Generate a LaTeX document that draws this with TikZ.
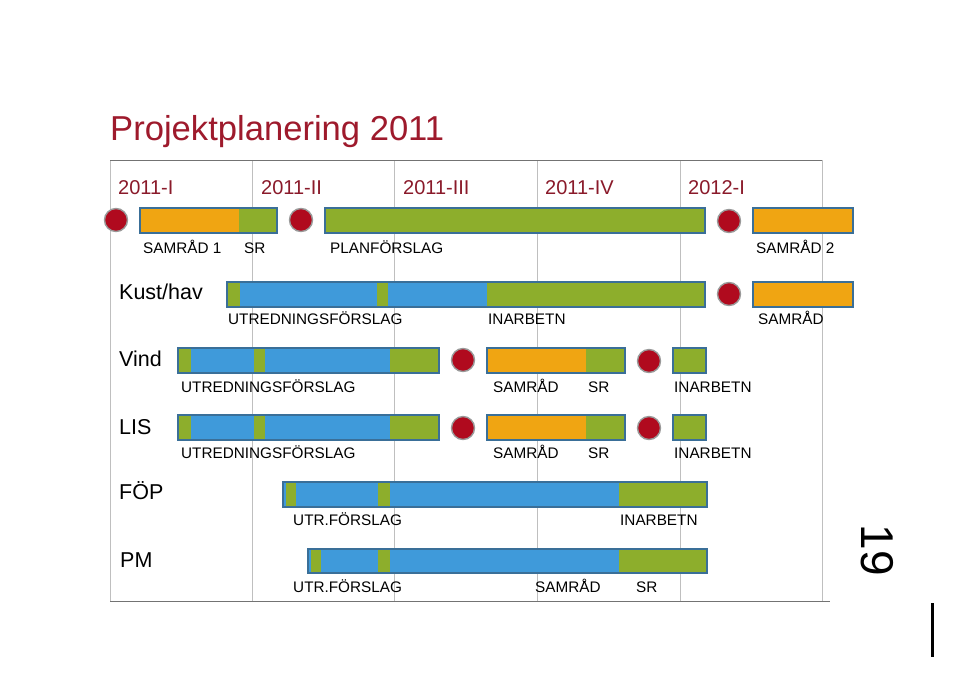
\documentclass[tikz,border=0pt]{standalone}
\usepackage{fontspec}
\setmainfont{Liberation Sans}
\definecolor{cOrange}{HTML}{F0A512}
\definecolor{cGreen}{HTML}{8DAE2C}
\definecolor{cBlue}{HTML}{3F9ADA}
\definecolor{cFrame}{HTML}{3A6F98}
\definecolor{cRed}{HTML}{B00A1E}
\definecolor{cTitle}{HTML}{9E1A2C}
\definecolor{cQuarter}{HTML}{8A1A2A}
\begin{document}
\begin{tikzpicture}[x=1pt,y=-1pt,
  gridline/.style={draw=black!25, line width=0.6pt},
  frameline/.style={draw=black!55, line width=0.9pt},
  barframe/.style={draw=cFrame, line width=1.1pt},
  milestone/.style={circle, fill=cRed, draw=black!40, line width=1.4pt, minimum size=23pt, inner sep=0pt},
  lbl/.style={font=\fontsize{15.3}{17}\selectfont, anchor=base west, inner sep=0pt, text=black},
  quarter/.style={font=\fontsize{20}{22}\selectfont, anchor=base west, inner sep=0pt, text=cQuarter},
  rowlbl/.style={font=\fontsize{21.5}{24}\selectfont, anchor=base west, inner sep=0pt, text=black},
  titlestyle/.style={font=\fontsize{34.6}{38}\selectfont, anchor=base west, inner sep=0pt, text=cTitle}]
\useasboundingbox[fill=white] (0,0) rectangle (960,675);

% grid
\foreach \gx in {252,394,537,680} {\draw[gridline] (\gx,160) -- (\gx,601);}
\draw[gridline] (110,160) -- (110,601);
\draw[gridline] (822,160) -- (822,601);
\draw[frameline] (110,160) -- (822,160);
\draw[frameline] (110,601) -- (830,601);

% title and quarters
\node[titlestyle] (title) at (110,140) {Projektplanering 2011};
\node[quarter] (q1) at (118,194) {2011-I};
\node[quarter] (q2) at (261,194) {2011-II};
\node[quarter] (q3) at (403,194) {2011-III};
\node[quarter] (q4) at (545,194) {2011-IV};
\node[quarter] (q5) at (688,194) {2012-I};

% row 1
\fill[cOrange] (140,208) rectangle (239,233);
\fill[cGreen] (239,208) rectangle (277,233);
\draw[barframe] (140,208) rectangle (277,233);
\fill[cGreen] (325,208) rectangle (705,233);
\draw[barframe] (325,208) rectangle (705,233);
\fill[cOrange] (753,208) rectangle (853,233);
\draw[barframe] (753,208) rectangle (853,233);
\node[milestone] (m11) at (116,220) {};
\node[milestone] (m12) at (301,220) {};
\node[milestone] (m13) at (729,221) {};
\node[lbl] (l11) at (143,253.5) {SAMRÅD 1};
\node[lbl] (l12) at (244,253.5) {SR};
\node[lbl] (l13) at (330,253.5) {PLANFÖRSLAG};
\node[lbl] (l14) at (756,253.5) {SAMRÅD 2};

% row 2 Kust/hav
\node[rowlbl] (r2) at (119,299.7) {Kust/hav};
\fill[cGreen] (227,282) rectangle (240,307);
\fill[cBlue] (240,282) rectangle (377,307);
\fill[cGreen] (377,282) rectangle (388,307);
\fill[cBlue] (388,282) rectangle (487,307);
\fill[cGreen] (487,282) rectangle (705,307);
\draw[barframe] (227,282) rectangle (705,307);
\node[milestone] (m21) at (729,294) {};
\fill[cOrange] (753,282) rectangle (853,307);
\draw[barframe] (753,282) rectangle (853,307);
\node[lbl] (l21) at (228,324.5) {UTREDNINGSFÖRSLAG};
\node[lbl] (l22) at (488,324.5) {INARBETN};
\node[lbl] (l23) at (758,324.5) {SAMRÅD};

% row 3 Vind
\node[rowlbl] (r3) at (119,366.7) {Vind};
\fill[cGreen] (178,348) rectangle (191,373);
\fill[cBlue] (191,348) rectangle (254,373);
\fill[cGreen] (254,348) rectangle (265,373);
\fill[cBlue] (265,348) rectangle (390,373);
\fill[cGreen] (390,348) rectangle (439,373);
\draw[barframe] (178,348) rectangle (439,373);
\node[milestone] (m31) at (463,360) {};
\fill[cOrange] (487,348) rectangle (586,373);
\fill[cGreen] (586,348) rectangle (625,373);
\draw[barframe] (487,348) rectangle (625,373);
\node[milestone] (m32) at (649,361) {};
\fill[cGreen] (673,348) rectangle (706,373);
\draw[barframe] (673,348) rectangle (706,373);
\node[lbl] (l31) at (181,392.5) {UTREDNINGSFÖRSLAG};
\node[lbl] (l32) at (493,392.5) {SAMRÅD};
\node[lbl] (l33) at (588,392.5) {SR};
\node[lbl] (l34) at (674,392.5) {INARBETN};

% row 4 LIS
\node[rowlbl] (r4) at (119,434.7) {LIS};
\fill[cGreen] (178,415) rectangle (191,440);
\fill[cBlue] (191,415) rectangle (254,440);
\fill[cGreen] (254,415) rectangle (265,440);
\fill[cBlue] (265,415) rectangle (390,440);
\fill[cGreen] (390,415) rectangle (439,440);
\draw[barframe] (178,415) rectangle (439,440);
\node[milestone] (m41) at (463,428) {};
\fill[cOrange] (487,415) rectangle (586,440);
\fill[cGreen] (586,415) rectangle (625,440);
\draw[barframe] (487,415) rectangle (625,440);
\node[milestone] (m42) at (649,428) {};
\fill[cGreen] (673,415) rectangle (706,440);
\draw[barframe] (673,415) rectangle (706,440);
\node[lbl] (l41) at (181,458.5) {UTREDNINGSFÖRSLAG};
\node[lbl] (l42) at (493,458.5) {SAMRÅD};
\node[lbl] (l43) at (588,458.5) {SR};
\node[lbl] (l44) at (674,458.5) {INARBETN};

% row 5 FÖP
\node[rowlbl] (r5) at (119,499.7) {FÖP};
\fill[cBlue] (283,482) rectangle (707,507);
\fill[cGreen] (286,482) rectangle (296,507);
\fill[cGreen] (378,482) rectangle (390,507);
\fill[cGreen] (619,482) rectangle (707,507);
\draw[barframe] (283,482) rectangle (707,507);
\node[lbl] (l51) at (293,525.5) {UTR.FÖRSLAG};
\node[lbl] (l52) at (620,525.5) {INARBETN};

% row 6 PM
\node[rowlbl] (r6) at (120,567.7) {PM};
\fill[cBlue] (308,549) rectangle (707,573);
\fill[cGreen] (311,549) rectangle (321,573);
\fill[cGreen] (378,549) rectangle (390,573);
\fill[cGreen] (619,549) rectangle (707,573);
\draw[barframe] (308,549) rectangle (707,573);
\node[lbl] (l61) at (293,592.5) {UTR.FÖRSLAG};
\node[lbl] (l62) at (535,592.5) {SAMRÅD};
\node[lbl] (l63) at (636,592.5) {SR};

% handwritten page number and mark
\node[rotate=-90, font=\fontsize{46}{50}\selectfont, inner sep=0pt] (pg) at (877,550) {19};
\draw[line width=3pt] (932,603) -- (932,657);
\end{tikzpicture}
\end{document}
